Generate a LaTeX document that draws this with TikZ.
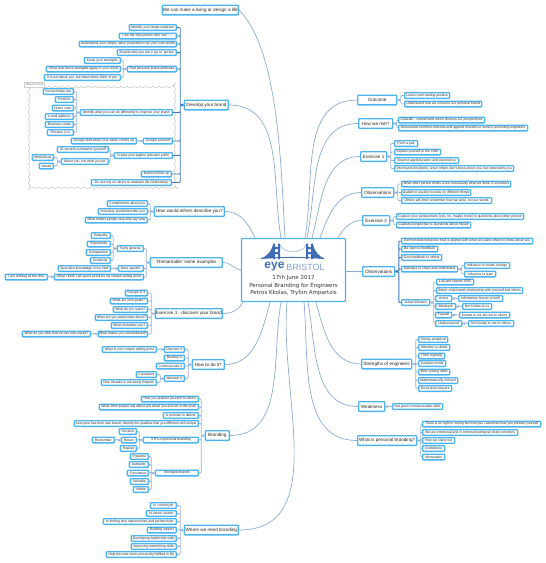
\documentclass[tikz,border=0pt]{standalone}
\usepackage{fontspec}
\setmainfont{Liberation Sans}
\newfontfamily\hubfont{DejaVu Sans}
\usetikzlibrary{calc}
\usetikzlibrary{decorations.pathmorphing}
\definecolor{nodeblue}{RGB}{77,180,240}
\definecolor{limbblue}{RGB}{140,170,210}
\definecolor{linkblue}{RGB}{155,178,214}
\definecolor{trunkblue}{RGB}{60,120,190}
\definecolor{logoblue}{RGB}{62,108,182}
\definecolor{logolight}{RGB}{130,160,214}
\definecolor{cloudgray}{RGB}{208,208,208}
\tikzset{
	leaf/.style={draw=nodeblue, line width=1.3pt, fill=white, rounded corners=0.8pt, inner sep=0pt, minimum height=5.7pt, text=black!85, font=\fontsize{3.4}{4}\selectfont},
	leafL/.style={leaf, anchor=east},
	leafR/.style={leaf, anchor=west},
	limbnode/.style={leaf, minimum height=9.7pt, font=\fontsize{4.6}{5}\selectfont},
	limbL/.style={limbnode, anchor=east},
	limbR/.style={limbnode, anchor=west},
	limb/.style={draw=limbblue, line width=0.7pt},
	linkL/.style={draw=linkblue, line width=0.7pt, rounded corners=1pt, to path={(\tikztostart.west) -- ++(-3.5,0) |- (\tikztotarget.east) (\tikztostart.west) ++(-1.7,0) circle[radius=1]}},
	linkR/.style={draw=linkblue, line width=0.7pt, rounded corners=1pt, to path={(\tikztostart.east) -- ++(3.5,0) |- (\tikztotarget.west) (\tikztostart.east) ++(1.7,0) circle[radius=1]}},
	darklink/.style={draw=trunkblue, line width=0.9pt},
}

\begin{document}
\begin{tikzpicture}[x=1pt, y=-1pt, line cap=round, line join=round]
	\useasboundingbox (0,0) rectangle (546,563);
	
	% --- cloud behind the brand group
	\draw[draw=cloudgray, line width=0.6pt, fill=white, decorate, decoration={bumps, segment length=13pt, amplitude=1.6pt}] (28,86) rectangle (176,189);
	\node[draw=cloudgray, line width=0.5pt, fill=white, inner sep=0pt, minimum width=20pt, minimum height=4.5pt, text=black!60, font=\fontsize{2.8}{3}\selectfont] (cloudtag) at (34.5,84.5) {Branch Cloud};
	
	% --- hub
	\node[draw=nodeblue, line width=1.3pt, fill=white, rounded corners=1pt, minimum width=104pt, minimum height=63pt, inner sep=0pt] (hub) at (293.5,270) {};
	\fill[logoblue] (273,243.5) rectangle (275,259) (278,243.5) rectangle (280,259) (273,247) rectangle (280,249) (273,252) rectangle (280,254);
	\fill[logoblue] (306,243.5) rectangle (308,259) (311,243.5) rectangle (313,259) (306,247) rectangle (313,249) (306,252) rectangle (313,254);
	\fill[logoblue] (261,258.5) .. controls (267,256) and (271,252) .. (273,245) -- (273,258) -- cycle;
	\fill[logoblue] (324,258.5) .. controls (319,256) and (315,252) .. (313,245) -- (313,258) -- cycle;
	\draw[logolight, line width=0.4pt] (280,245) .. controls (284,254) and (302,254) .. (306,245);
	\draw[logoblue, line width=0.8pt] (261,258.5) .. controls (280,257) and (306,257) .. (324,258.5);
	\node[inner sep=0pt, text=logoblue, font=\fontsize{12}{12}\selectfont\bfseries] (eye) at (274.5,266.5) {eye};
	\node[inner sep=0pt, text=logolight, font=\fontsize{9}{9}\selectfont] (bristol) at (305.5,267.5) {BRISTOL};
	\node[inner sep=0pt, align=center, text=black!80, font=\hubfont\fontsize{5.5}{7.5}\selectfont] (title) at (293.5,285.5) {17th June 2017\\Personal Branding for Engineers\\Petros Kkolas, Tryfon Ampartzis};
	
	% --- left limbs
	\node[limbL, minimum width=76pt] (living) at (239,10) {We can make a living or design a life};
	\node[limbL, minimum width=44pt] (develop) at (229,105) {Develop your brand};
	\node[limbL, minimum width=70pt] (describe) at (225,211.5) {How would others describe you?};
	\node[limbL, minimum width=72pt] (remark) at (223,262.5) {`Remarkable' some examples};
	\node[limbL, minimum width=67pt] (exthree) at (223,313.5) {Exercise 3 - discover your brand};
	\node[limbL, minimum width=32pt] (howto) at (225,364.5) {How to do it?};
	\node[limbL, minimum width=24pt] (branding) at (230,435.5) {Branding};
	\node[limbL, minimum width=54pt] (where) at (239,530) {Where we need branding};
	
	% --- develop your brand
	\node[leafL, minimum width=47pt] (audience) at (177,27.5) {Identify your target audience};
	\node[leafL, minimum width=57pt] (onlyone) at (177,36) {I am the only person who can ......};
	\node[leafL, minimum width=97pt] (proposition) at (177,44) {Understand your unique value proposition use your own words};
	\node[leafL, minimum width=59pt] (goto) at (177,52.5) {Answer why you are a `go to' person};
	\node[leafL, minimum width=49pt] (attributes) at (177,69) {Find personal brand attributes};
	\node[leafL, minimum width=36pt] (strengths) at (121,60.5) {Know your strengths};
	\node[leafL, minimum width=74pt] (apply) at (121,69) {Show how these strengths apply to your client};
	\node[leafL, minimum width=76pt] (notyou) at (121,77.5) {It is not about you, but what others think of you};
	\node[leafL, minimum width=92pt] (improve) at (173,112.5) {Identify what you can do differently to improve your brand};
	\node[leafL, minimum width=30pt] (social) at (74,91.5) {Social media use};
	\node[leafL, minimum width=18pt] (portfolio) at (74,99.5) {Portfolio};
	\node[leafL, minimum width=21pt] (dress) at (74,108) {Dress code};
	\node[leafL, minimum width=28pt] (email) at (74,116.5) {e-mail address};
	\node[leafL, minimum width=28pt] (cards) at (74,124.5) {Business cards};
	\node[leafL, minimum width=26pt] (resume) at (74,132.5) {Resume (cv)};
	\node[leafL, minimum width=29pt] (google) at (173,141) {Google yourself};
	\node[leafL, minimum width=65pt] (alert) at (137,141) {Google alert when your name comes up};
	\node[leafL, minimum width=58pt] (tagline) at (173,155.5) {Create your tagline (elevator pitch)};
	\node[leafL, minimum width=51pt] (summarise) at (109,149.5) {30 second summarise yourself};
	\node[leafL, minimum width=47pt] (aboutyou) at (109,161.5) {About you, not what you do};
	\node[leafL, minimum width=21pt] (motiv) at (54,157.5) {Motivations};
	\node[leafL, minimum width=14pt] (values) at (54,166) {Values};
	\node[leafL, minimum width=30pt] (invoice) at (172,174) {Invoice follow up};
	\node[leafL, minimum width=80pt] (rely) at (172,182.5) {Do not rely on others to maintain the relationship};
	
	% --- how would others describe you
	\node[leafL, minimum width=40pt] (compliments) at (148,203.5) {Compliments about you};
	\node[leafL, minimum width=49pt] (theywould) at (148,211.5) {How they would describe you};
	\node[leafL, minimum width=62pt] (wow) at (148,220) {What makes people stop and say wow};
	
	% --- remarkable
	\node[leafL, minimum width=26pt] (general) at (144,248.5) {Fairly general};
	\node[leafL, minimum width=19pt] (empathy) at (111,235.5) {Empathy};
	\node[leafL, minimum width=23pt] (experience) at (111,244) {Experience};
	\node[leafL, minimum width=24pt] (compassion) at (111,252.5) {Compassion};
	\node[leafL, minimum width=20pt] (creativity) at (111,260.5) {Creativity};
	\node[leafL, minimum width=25pt] (specific) at (144,268.5) {More specific};
	\node[leafL, minimum width=52pt] (specialist) at (111,268.5) {Specialist knowledge in my field};
	\node[leafL, minimum width=89pt] (goodat) at (144,277) {What I think I am good at will be my unique selling point};
	\node[leafL, minimum width=42pt] (refining) at (48,277) {I am refining all the time};
	
	% --- exercise 3
	\node[leafL, minimum width=22pt] (groups) at (148,293) {Groups of 4};
	\node[leafL, minimum width=37pt] (goals) at (148,301) {What are your goals?};
	\node[leafL, minimum width=34pt] (dovalue) at (148,309.5) {What do you value?};
	\node[leafL, minimum width=52pt] (passion) at (148,317.5) {What are you passionate about?};
	\node[leafL, minimum width=36pt] (motivates) at (148,325.5) {What motivates you?};
	\node[leafL, minimum width=49pt] (remembered) at (148,334) {What makes you remembered?};
	\node[leafL, minimum width=68pt] (offer) at (91,334) {What do you offer that no one else would?};
	
	% --- how to do it
	\node[leafL, minimum width=20pt] (discover) at (185,349.5) {Discover it};
	\node[leafL, minimum width=20pt] (developit) at (185,358) {Develop it};
	\node[leafL, minimum width=28pt] (communicate) at (185,366) {Communicate it};
	\node[leafL, minimum width=20pt] (maintain) at (185,378.5) {Maintain it};
	\node[leafL, minimum width=54pt] (selling) at (157,349.5) {What is your unique selling point};
	\node[leafL, minimum width=20pt] (consistent) at (157,374.5) {Consistent};
	\node[leafL, minimum width=55pt] (mistake) at (157,382.5) {One mistake is not easily forgiven};
	
	% --- branding
	\node[leafL, minimum width=57pt] (present) at (199,399) {How you present yourself to others};
	\node[leafL, minimum width=99pt] (others) at (199,407) {What other people say about you when you are not in the room};
	\node[leafL, minimum width=35pt] (promise) at (199,415.5) {A promise to deliver};
	\node[leafL, minimum width=124pt] (unique) at (199,423.5) {everyone has their own brand; identify the qualities that you different and unique};
	\node[leafL, minimum width=55pt] (threer) at (199,440) {3 R's of personal branding};
	\node[leafL, minimum width=17pt] (receive) at (137,431.5) {Receive};
	\node[leafL, minimum width=15pt] (retain) at (137,440) {Retain};
	\node[leafL, minimum width=16pt] (repeat) at (137,448.5) {Repeat};
	\node[leafL, minimum width=22pt] (remember) at (115,440) {Remember};
	\node[leafL, minimum width=43pt] (strongest) at (199,473) {Strongest brands};
	\node[leafL, minimum width=18pt] (powerful) at (149,456.5) {Powerful};
	\node[leafL, minimum width=19pt] (authentic) at (149,464.5) {Authentic};
	\node[leafL, minimum width=21pt] (consist) at (149,473) {Consistent};
	\node[leafL, minimum width=18pt] (valuable) at (149,481.5) {Valuable};
	\node[leafL, minimum width=15pt] (visible) at (149,489.5) {Visible};
	
	% --- where we need branding
	\node[leafL, minimum width=26pt] (currentjob) at (177,505.5) {In current job};
	\node[leafL, minimum width=30pt] (career) at (177,513.5) {In career search};
	\node[leafL, minimum width=73pt] (partners) at (177,521.5) {In finding new opportunities and partnerships};
	\node[leafL, minimum width=29pt] (rapport) at (177,530) {Building rapport};
	\node[leafL, minimum width=45pt] (leadership) at (177,538.5) {Developing leadership skills};
	\node[leafL, minimum width=45pt] (network) at (177,546.5) {Improving networking skills};
	\node[leafL, minimum width=70pt] (fulfilled) at (177,554.5) {Help become more personally fulfilled in life};
	
	% --- right limbs
	\node[limbR, minimum width=39pt] (outcome) at (357,100) {Outcome};
	\node[limbR, minimum width=34pt] (howmet) at (358,123.5) {How we met?};
	\node[limbR, minimum width=26pt] (exone) at (360,156.5) {Exercise 1};
	\node[limbR, minimum width=32pt] (obsone) at (361,192.5) {Observations};
	\node[limbR, minimum width=27pt] (extwo) at (362,220.5) {Exercise 2};
	\node[limbR, minimum width=32pt] (obstwo) at (362,271.5) {Observations};
	\node[limbR, minimum width=50pt] (strong) at (361,364) {Strengths of engineers};
	\node[limbR, minimum width=26pt] (weak) at (358,406.5) {Weakness};
	\node[limbR, minimum width=59pt] (whatis) at (357,440.5) {What is personal branding?};
	
	% --- outcome, how we met, exercise 1
	\node[leafR, minimum width=45pt] (positive) at (404,95.5) {Leave room feeling positive};
	\node[leafR, minimum width=77pt] (enhance) at (404,104) {Understand how we enhance our personal brand};
	\node[leafR, minimum width=86pt] (linkedin) at (398,120) {LinkedIn - noticed and met to discuss our perspectives};
	\node[leafR, minimum width=129pt] (interests) at (398,128) {Discovered common interests and agreed to build our work in promoting engineers};
	\node[leafR, minimum width=23pt] (pair) at (394,143.5) {Form a pair};
	\node[leafR, minimum width=46pt] (explain) at (394,152) {Explain yourself to the other};
	\node[leafR, minimum width=64pt] (beyond) at (394,160.5) {Beyond age/education and experience};
	\node[leafR, minimum width=119pt] (incidents) at (394,168.5) {Information/incidents; union others don't know about you, but represents you};
	
	% --- observations, exercise 2
	\node[leafR, minimum width=109pt] (thinks) at (401,184) {What other person thinks is not necessarily what we think of ourselves};
	\node[leafR, minimum width=69pt] (focus) at (401,192.5) {Audience usually focuses on different things};
	\node[leafR, minimum width=90pt] (words) at (401,200.5) {Others will often remember how we were, not our words};
	\node[leafR, minimum width=127pt] (capture) at (396,216.5) {Capture your perspectives (yes, no, maybe more) to questions about other person};
	\node[leafR, minimum width=74pt] (myself) at (396,225) {Capture perspective to questions about myself};
	\node[leafR, minimum width=131pt] (aligned) at (401,241) {Demonstrate behaviour that is aligned with what you want others to know about you};
	\node[leafR, minimum width=36pt] (openfb) at (401,249) {Be open to feedback};
	\node[leafR, minimum width=40pt] (givefb) at (401,257.5) {Give feedback to others};
	\node[leafR, minimum width=56pt] (dialogue) at (401,269) {Dialogue to share and understand};
	\node[leafR, minimum width=45pt] (change) at (464,265.5) {Influence to create change};
	\node[leafR, minimum width=31pt] (lead) at (464,274) {Influence to lead};
	\node[leafR, minimum width=28pt] (johari) at (401,302.5) {Johari Window};
	\node[leafR, minimum width=37pt] (ingram) at (436,282) {Luft and Ingram 1955};
	\node[leafR, minimum width=86pt] (relation) at (436,290.5) {Better understand relationship with yourself and others};
	\node[leafR, minimum width=16pt] (arena) at (435,298.5) {Arena};
	\node[leafR, minimum width=20pt] (blind) at (435,306.5) {Blindspot};
	\node[leafR, minimum width=16pt] (facade) at (435,315) {Façade};
	\node[leafR, minimum width=26pt] (undisc) at (435,323.5) {Undiscovered};
	\node[leafR, minimum width=44pt] (both) at (458,298.5) {Information known to both};
	\node[leafR, minimum width=29pt] (notus) at (462,306.5) {Not known to us};
	\node[leafR, minimum width=50pt] (tome) at (459,315) {Known to me but not to others};
	\node[leafR, minimum width=45pt] (nomeor) at (468,323.5) {Not known to me or others};
	
	% --- strengths, weakness, personal branding
	\node[leafR, minimum width=29pt] (analytic) at (418,339.5) {Strong analytical};
	\node[leafR, minimum width=31pt] (detail) at (418,347.5) {Attention to detail};
	\node[leafR, minimum width=26pt] (logical) at (418,356) {Think logically};
	\node[leafR, minimum width=27pt] (creative) at (418,363.5) {Creative minds};
	\node[leafR, minimum width=31pt] (solving) at (418,372) {Best solving skills};
	\node[leafR, minimum width=39pt] (maths) at (418,380.5) {Mathematically inclined};
	\node[leafR, minimum width=33pt] (team) at (418,388.5) {Good team players};
	\node[leafR, minimum width=50pt] (commskills) at (392,406.5) {Not good communication skills};
	\node[leafR, minimum width=118pt] (norule) at (422,424) {There is no right or wrong but how you customise how you present yourself};
	\node[leafR, minimum width=95pt] (emotional) at (422,432.5) {We are emotional and in communicating we share emotions};
	\node[leafR, minimum width=32pt] (standout) at (422,440.5) {How we stand out};
	\node[leafR, minimum width=22pt] (confidence) at (422,448.5) {Confidence};
	\node[leafR, minimum width=22pt] (memorable) at (422,457) {Memorable};
	
	% --- limbs from the hub
	\draw[limb] ([xshift=-8.5pt]hub.north) .. controls +(-4,-70) and +(40,40) .. (living.east);
	\draw[limb] ([xshift=-12.5pt]hub.north) to[out=100, in=0] (develop.east);
	\draw[limb] ([xshift=-38.5pt]hub.north) to[out=115, in=0] (describe.east);
	\draw[limb] (hub.west) to[out=170, in=0] (remark.east);
	\draw[limb] ([xshift=-50.5pt]hub.south) to[out=-120, in=0] (exthree.east);
	\draw[limb] ([xshift=-23.5pt]hub.south) to[out=-105, in=0] (howto.east);
	\draw[limb] ([xshift=-12.5pt]hub.south) to[out=-100, in=0] (branding.east);
	\draw[limb] ([xshift=-6.5pt]hub.south) to[out=-95, in=0] (where.east);
	\draw[limb] ([xshift=11.5pt]hub.north) to[out=80, in=180] (outcome.west);
	\draw[limb] ([xshift=13.5pt]hub.north) to[out=78, in=180] (howmet.west);
	\draw[limb] ([xshift=18.5pt]hub.north) to[out=75, in=180] (exone.west);
	\draw[limb] ([xshift=26.5pt]hub.north) to[out=70, in=180] (obsone.west);
	\draw[limb] ([xshift=44.5pt]hub.north) to[out=60, in=180] (extwo.west);
	\draw[limb] (hub.east |- obstwo.west) -- (obstwo.west);
	\draw[limb] ([xshift=22.5pt]hub.south) to[out=-75, in=180] (strong.west);
	\draw[limb] ([xshift=14.5pt]hub.south) to[out=-80, in=180] (weak.west);
	\draw[limb] ([xshift=10.5pt]hub.south) to[out=-85, in=180] (whatis.west);
	
	% --- left branches
	\draw[linkL, darklink] (develop) to (audience) (develop) to (onlyone) (develop) to (proposition) (develop) to (goto) (develop) to (attributes) (develop) to (improve) (develop) to (google) (develop) to (tagline) (develop) to (invoice) (develop) to (rely);
	\draw[linkL] (attributes) to (strengths) (attributes) to (apply) (attributes) to (notyou);
	\draw[linkL] (improve) to (social) (improve) to (portfolio) (improve) to (dress) (improve) to (email) (improve) to (cards) (improve) to (resume);
	\draw[linkL] (google) to (alert);
	\draw[linkL] (tagline) to (summarise) (tagline) to (aboutyou);
	\draw[linkL] (aboutyou) to (motiv) (aboutyou) to (values);
	\draw[linkL] (describe) to (compliments) (describe) to (theywould) (describe) to (wow);
	\draw[linkL] (remark) to (general) (remark) to (specific) (remark) to (goodat);
	\draw[linkL] (general) to (empathy) (general) to (experience) (general) to (compassion) (general) to (creativity);
	\draw[linkL] (specific) to (specialist);
	\draw[linkL] (goodat) to (refining);
	\draw[linkL] (exthree) to (groups) (exthree) to (goals) (exthree) to (dovalue) (exthree) to (passion) (exthree) to (motivates) (exthree) to (remembered);
	\draw[linkL] (remembered) to (offer);
	\draw[linkL] (howto) to (discover) (howto) to (developit) (howto) to (communicate) (howto) to (maintain);
	\draw[linkL] (discover) to (selling);
	\draw[linkL] (maintain) to (consistent) (maintain) to (mistake);
	\draw[linkL] (branding) to (present) (branding) to (others) (branding) to (promise) (branding) to (unique) (branding) to (threer) (branding) to (strongest);
	\draw[linkL] (threer) to (receive) (threer) to (retain) (threer) to (repeat);
	\draw[linkL] (retain) to (remember);
	\draw[linkL] (strongest) to (powerful) (strongest) to (authentic) (strongest) to (consist) (strongest) to (valuable) (strongest) to (visible);
	\draw[linkL] (where) to (currentjob) (where) to (career) (where) to (partners) (where) to (rapport) (where) to (leadership) (where) to (network) (where) to (fulfilled);
	
	% --- right branches
	\draw[linkR] (outcome) to (positive) (outcome) to (enhance);
	\draw[linkR] (howmet) to (linkedin) (howmet) to (interests);
	\draw[linkR] (exone) to (pair) (exone) to (explain) (exone) to (beyond) (exone) to (incidents);
	\draw[linkR] (obsone) to (thinks) (obsone) to (focus) (obsone) to (words);
	\draw[linkR] (extwo) to (capture) (extwo) to (myself);
	\draw[linkR, darklink] (obstwo) to (aligned) (obstwo) to (openfb) (obstwo) to (givefb) (obstwo) to (dialogue) (obstwo) to (johari);
	\draw[linkR] (dialogue) to (change) (dialogue) to (lead);
	\draw[linkR] (johari) to (ingram) (johari) to (relation) (johari) to (arena) (johari) to (blind) (johari) to (facade) (johari) to (undisc);
	\draw[linkR] (arena) to (both);
	\draw[linkR] (blind) to (notus);
	\draw[linkR] (facade) to (tome);
	\draw[linkR] (undisc) to (nomeor);
	\draw[linkR] (strong) to (analytic) (strong) to (detail) (strong) to (logical) (strong) to (creative) (strong) to (solving) (strong) to (maths) (strong) to (team);
	\draw[linkR] (weak) to (commskills);
	\draw[linkR] (whatis) to (norule) (whatis) to (emotional) (whatis) to (standout) (whatis) to (confidence) (whatis) to (memorable);
\end{tikzpicture}
\end{document}
